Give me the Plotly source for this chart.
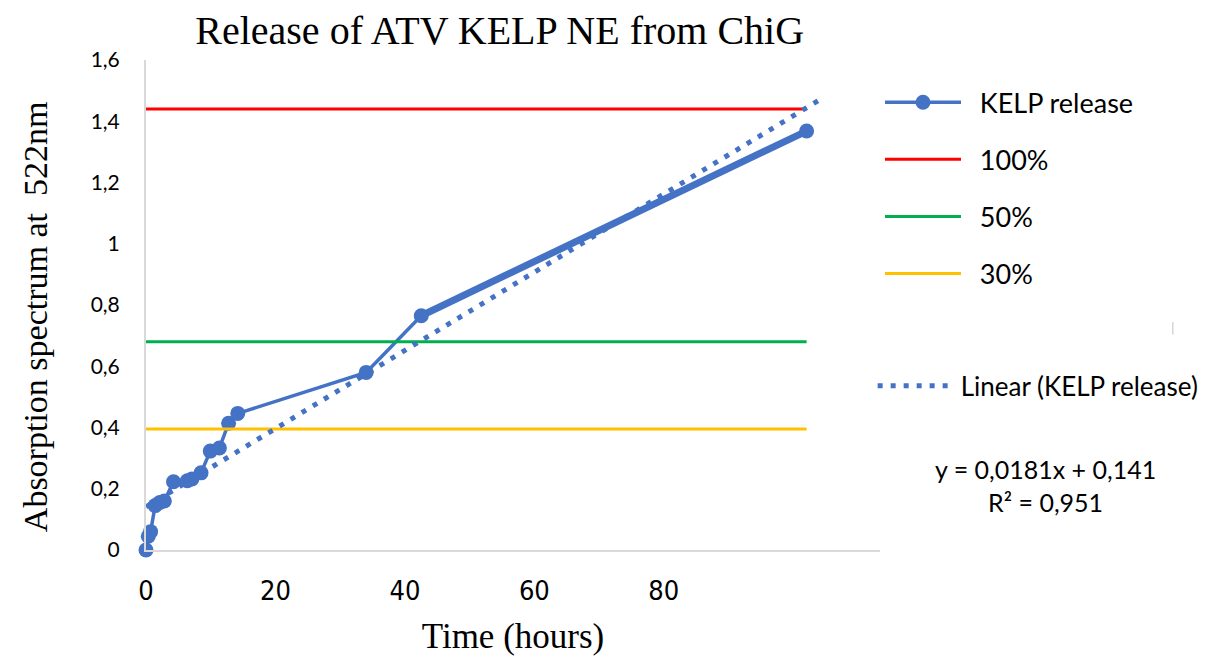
import plotly.graph_objects as go

# data
time_h = [0, 0.25, 0.5, 1, 1.5, 2, 3, 4.5, 5, 6, 7, 8, 9, 10, 24, 30, 72]
absorb = [0, 0.045, 0.06, 0.145, 0.155, 0.16, 0.223, 0.226, 0.232, 0.252,
          0.323, 0.333, 0.414, 0.446, 0.58, 0.765, 1.368]

level_names = ['100%', '50%', '30%']
level_values = [1.44, 0.68, 0.395]
level_colors = ['#FF0000', '#00B050', '#FFC000']
level_x = [0, 72]

# trendline as printed on the chart
slope, intercept, r2 = 0.0181, 0.141, 0.951
trend_x = [0, 73.4]

x_tick_labels = [0, 20, 40, 60, 80]
y_tick_values = [0, 0.2, 0.4, 0.6, 0.8, 1, 1.2, 1.4, 1.6]

BLUE = '#4472C4'
SANS = 'Lato, Open Sans, sans-serif'
SERIF = 'Liberation Serif, Times New Roman, serif'
PAD = '\u00a0\u00a0'  # little extra gap between legend symbol and text


def comma(v):
    return str(v).replace('.', ',')


fig = go.Figure()

fig.add_trace(go.Scatter(
    x=time_h, y=absorb, name=PAD + 'KELP release', mode='lines+markers',
    line=dict(color=BLUE, width=3.5), marker=dict(size=15, color=BLUE),
    legendgroup='kelp', cliponaxis=False))
# the last segment is drawn heavier in the original
fig.add_trace(go.Scatter(
    x=time_h[-2:], y=absorb[-2:], mode='lines', showlegend=False,
    line=dict(color=BLUE, width=7), hoverinfo='skip'))

for name, val, col in zip(level_names, level_values, level_colors):
    fig.add_trace(go.Scatter(
        x=level_x, y=[val, val], name=PAD + name, mode='lines',
        line=dict(color=col, width=3), legendgroup=name))

fig.add_trace(go.Scatter(
    x=trend_x, y=[slope * x + intercept for x in trend_x],
    name='Linear (KELP release)', mode='lines',
    line=dict(color=BLUE, width=5, dash='5px,8px'), legend='legend2'))

# dummy trace so the label axis gets drawn
fig.add_trace(go.Scatter(x=[0], y=[0], xaxis='x2', mode='lines',
                         showlegend=False, hoverinfo='skip',
                         line=dict(width=0)))

fig.update_layout(
    width=1211, height=659,
    margin=dict(l=138, r=339, t=52, b=117, autoexpand=False),
    paper_bgcolor='white', plot_bgcolor='white',
    separators=',.',
    title=dict(text='Release of ATV KELP NE from ChiG',
               font=dict(family=SERIF, size=40, color='black'),
               x=0.406, xanchor='center', y=0.967, yanchor='middle'),
    xaxis=dict(range=[0, 80], showticklabels=False, showgrid=False,
               zeroline=False, showline=True, linecolor='#D9D9D9',
               linewidth=2, ticks='',
               title=dict(text='Time (hours)', standoff=72,
                          font=dict(family=SERIF, size=35, color='black'))),
    xaxis2=dict(overlaying='x', side='bottom', range=[0, 113.4],
                tickvals=x_tick_labels, showgrid=False, zeroline=False,
                showline=False, ticks='', ticklabelstandoff=22,
                tickfont=dict(family='Liberation Sans Narrow, DejaVu Sans Condensed, sans-serif',
                              size=27, color='black')),
    yaxis=dict(range=[0, 1.6], tickvals=y_tick_values, showgrid=False,
               zeroline=False, showline=True, linecolor='#D9D9D9',
               linewidth=2, ticks='', ticklabelstandoff=20,
               tickfont=dict(family=SANS, size=21, color='black')),
    legend=dict(x=1.0, xanchor='left', y=0.963, yanchor='top',
                itemwidth=76, tracegroupgap=19, bgcolor='rgba(0,0,0,0)',
                font=dict(family=SANS, size=27, color='black')),
    legend2=dict(x=0.99, xanchor='left', y=0.383, yanchor='top',
                 itemwidth=78, bgcolor='rgba(0,0,0,0)',
                 font=dict(family=SANS, size=26, color='black')),
    showlegend=True,
    annotations=[
        dict(text=f'y = {comma(slope)}x + {comma(intercept)}<br>R² = {comma(r2)}',
             xref='paper', yref='paper', x=1.225, y=0.131, xanchor='center',
             yanchor='middle', showarrow=False,
             font=dict(family=SANS, size=25, color='black'), align='center'),
        # y axis title, sits a bit below the axis centre in the original
        dict(text='Absorption spectrum at\u00a0 522nm', textangle=-90,
             xref='paper', yref='paper', x=-0.151, y=0.4755,
             xanchor='center', yanchor='middle', showarrow=False,
             font=dict(family=SERIF, size=34, color='black')),
    ],
    shapes=[dict(type='line', xref='paper', yref='paper',
                 x0=1.399, x1=1.399, y0=0.44, y1=0.465,
                 line=dict(color='#BFBFBF', width=1))],
)

fig.write_html("out.html")
